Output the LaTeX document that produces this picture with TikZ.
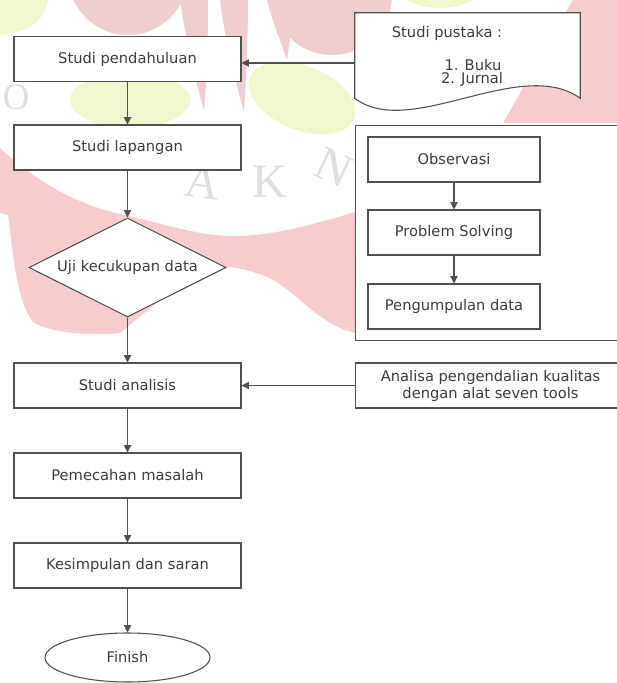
\documentclass[tikz,border=0pt]{standalone}
\usepackage{fontspec}
\setmainfont{DejaVu Sans}
\newfontfamily\wmfont{Liberation Serif}
\usetikzlibrary{shapes.geometric,arrows.meta}
\definecolor{wpink}{RGB}{247,204,206}
\definecolor{wpinkb}{RGB}{238,206,206}
\definecolor{wgreen}{RGB}{240,247,204}
\definecolor{wmgray}{RGB}{222,222,222}
\definecolor{ln}{RGB}{80,80,80}
\definecolor{tx}{RGB}{60,60,60}
\begin{document}
\begin{tikzpicture}[x=0.75pt,y=-0.75pt,
  every node/.style={font=\fontsize{11}{13}\selectfont, text=tx},
  box/.style={draw=ln, line width=0.8pt, fill=white, minimum width=170.25pt, minimum height=33.75pt, inner sep=0pt},
  ibox/.style={box, minimum width=129pt, minimum height=33.75pt},
  dec/.style={draw=ln, line width=0.8pt, fill=white, diamond, aspect=2, minimum width=147.75pt, minimum height=74.25pt, inner sep=0pt},
  term/.style={draw=ln, line width=0.8pt, fill=white, ellipse, minimum width=123.75pt, minimum height=36.75pt, inner sep=0pt},
  arr/.style={draw=ln, line width=0.8pt, -{Triangle[length=5.5pt,width=5.5pt]}},
  wm/.style={text=wmgray, font=\wmfont\fontsize{36}{36}\selectfont, inner sep=0pt}
]
\useasboundingbox (0,0) rectangle (617,683);
\fill[white] (0,0) rectangle (617,683);
% --- faint watermark ---
\fill[wgreen] (0,0) -- (48,0) .. controls (45,20) and (30,32) .. (0,35) -- cycle;
\fill[wgreen] (130,100) ellipse [x radius=60, y radius=28];
\fill[wgreen, rotate around={-22:(302,98)}] (302,98) ellipse [x radius=56, y radius=32];
\fill[wgreen] (440,-12) ellipse [x radius=40, y radius=20];
\fill[wpinkb] (128,-25) circle (60);
\fill[wpinkb] (180,0) -- (208,0) .. controls (208,40) and (207,80) .. (204,110) .. controls (195,80) and (186,40) .. (180,0) -- cycle;
\fill[wpinkb] (220,0) -- (248,0) .. controls (248,40) and (246,80) .. (244,112) .. controls (235,80) and (225,40) .. (220,0) -- cycle;
\fill[wpinkb] (267,0) -- (292,0) .. controls (292,20) and (290,40) .. (287,60) .. controls (280,40) and (272,20) .. (267,0) -- cycle;
\fill[wpinkb] (332,-5) circle (60);
\fill[wpink] (573,0) -- (617,0) -- (617,123) -- (503,123) -- cycle;
\fill[wpink] (0,148) .. controls (40,185) and (80,205) .. (120,214)
  .. controls (170,225) and (200,237) .. (240,236)
  .. controls (290,234) and (330,218) .. (400,200)
  -- (400,340) -- (355,333)
  .. controls (320,325) and (300,295) .. (270,278)
  .. controls (250,270) and (235,267) .. (226,267)
  -- (160,300) -- (120,333)
  .. controls (90,336) and (50,333) .. (33,322)
  .. controls (15,300) and (12,240) .. (8,215)
  -- (0,213) -- cycle;
\node[wm, font=\wmfont\fontsize{28}{28}\selectfont] (wmO) at (16,97) {O};
\node[wm, rotate=-8] (wmA) at (203,182) {A};
\node[wm] (wmK) at (270,182) {K};
\node[wm, rotate=-25] (wmN) at (334,168) {N};
% --- main flow ---
\node[box] (pend) at (127.5,59) {Studi pendahuluan};
\node[box] (lap) at (127.5,147.5) {Studi lapangan};
\node[dec] (uji) at (127.5,267.5) {Uji kecukupan data};
\node[box] (anal) at (127.5,385.5) {Studi analisis};
\node[box] (pem) at (127.5,475.5) {Pemecahan masalah};
\node[box] (kes) at (127.5,565.5) {Kesimpulan dan saran};
\node[term] (fin) at (127.5,657.5) {Finish};
% --- document: studi pustaka ---
\node[inner sep=0pt, minimum width=168.75pt, minimum height=63.75pt] (pus) at (467.5,55.5) {};
\draw[ln, line width=0.8pt, fill=white] (pus.south west) -- (pus.north west) -- (pus.north east) -- (pus.south east)
  .. controls +(-60,-43) and +(55,42) .. (pus.south west) -- cycle;
\node (pusT) at (447,33) {Studi pustaka :};
\node (pus1) at (473,65) {1. Buku};
\node (pus2) at (472,79) {2. Jurnal};
% --- group box ---
\node[draw=ln, line width=0.8pt, fill=white, minimum width=202.5pt, minimum height=161.25pt, anchor=north west, inner sep=0pt] (grp) at (355,125) {};
\node[ibox] (obs) at (454,159.5) {Observasi};
\node[ibox] (prob) at (454,232.5) {Problem Solving};
\node[ibox] (peng) at (454,306.5) {Pengumpulan data};
% --- analisa box ---
\node[box, anchor=west, minimum width=202.5pt, align=center, font=\fontsize{11}{12.75}\selectfont] (ana) at (355,385.5) {Analisa pengendalian kualitas\\dengan alat seven tools};
% --- connectors ---
\coordinate (pa) at (355,63);
\draw[arr] (pus.west |- pa) -- (pend.east |- pa);
\draw[arr] (pend.south) -- (lap.north);
\draw[arr] (lap.south) -- (uji.north);
\draw[arr] (uji.south) -- (anal.north);
\draw[arr] (anal.south) -- (pem.north);
\draw[arr] (pem.south) -- (kes.north);
\draw[arr] (kes.south) -- (fin.north);
\draw[arr] (obs.south) -- (prob.north);
\draw[arr] (prob.south) -- (peng.north);
\draw[arr] (ana.west) -- (anal.east);
\end{tikzpicture}
\end{document}
